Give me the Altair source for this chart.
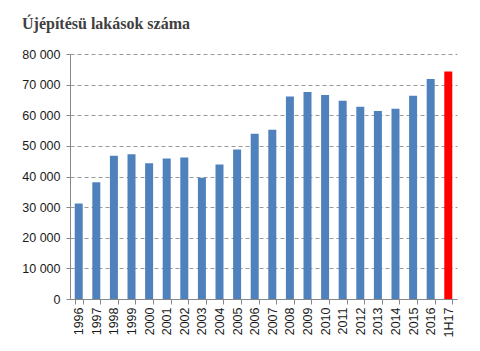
import altair as alt
import pandas as pd

years = ["1996", "1997", "1998", "1999", "2000", "2001", "2002", "2003", "2004", "2005",
         "2006", "2007", "2008", "2009", "2010", "2011", "2012", "2013", "2014", "2015",
         "2016", "1H17"]
values = [31200, 38100, 46800, 47300, 44300, 45900, 46200, 39600, 43900, 48800,
          54000, 55300, 66100, 67600, 66600, 64700, 62800, 61400, 62100, 66400,
          71800, 74300]
colors = ["#4F81BD"] * 21 + ["#FF0000"]

df = pd.DataFrame({"year": years, "value": values, "color": colors})

font = "Liberation Sans"

chart = alt.Chart(df).mark_bar(size=8).encode(
    x=alt.X("year:N", sort=years, title=None,
            scale=alt.Scale(paddingInner=0.55, paddingOuter=0.27),
            axis=alt.Axis(labelAngle=-90, labelFont=font, labelFontSize=12.5,
                          labelColor="#1a1a1a", labelPadding=3,
                          domainColor="#888888", tickColor="#888888",
                          tickSize=5, tickBand="extent", labelBaseline="middle",
                          labelAlign="right")),
    y=alt.Y("value:Q", title=None,
            scale=alt.Scale(domain=[0, 80000], nice=False),
            axis=alt.Axis(values=[0, 10000, 20000, 30000, 40000, 50000, 60000, 70000, 80000],
                          labelExpr="replace(format(datum.value, ','), ',', ' ')",
                          labelFont=font, labelFontSize=12.5, labelColor="#1a1a1a",
                          labelPadding=6,
                          domainColor="#888888", tickColor="#888888", tickSize=4,
                          grid=True, gridColor="#999999", gridDash=[4, 3], gridWidth=1)),
    color=alt.Color("color:N", scale=None),
).properties(
    width=387,
    height=245,
    padding={"left": 70, "top": 54, "right": 23, "bottom": 52},
    autosize=alt.AutoSizeParams(type="none"),
    title=alt.TitleParams("Újépítésü lakások száma", anchor="start", frame="group",
                          font="Liberation Serif", fontSize=16, fontWeight="bold",
                          color="#404040", dx=-48, offset=16),
).configure_view(stroke=None)

chart.save("out.html", embed_options={"renderer": "svg", "actions": False})
